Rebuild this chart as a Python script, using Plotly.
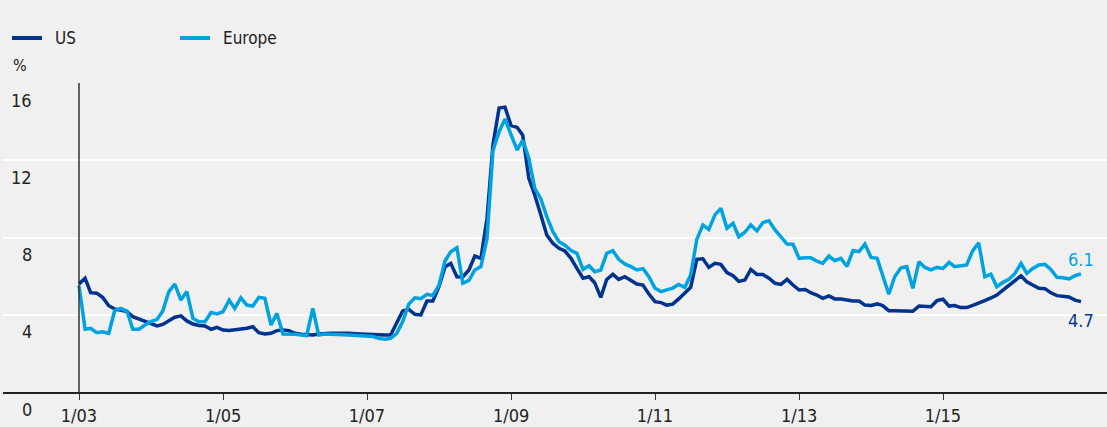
import pandas as pd
import plotly.graph_objects as go

# ---------------- data ----------------
start_month = "2003-01-01"
us = [5.6, 5.89, 5.14, 5.11, 4.90, 4.47, 4.30, 4.25, 4.16, 3.90, 3.78, 3.64,
      3.50, 3.42, 3.50, 3.69, 3.87, 3.94, 3.68, 3.52, 3.44, 3.42, 3.25, 3.35,
      3.21, 3.18, 3.21, 3.25, 3.30, 3.38, 3.07, 3.00, 3.04, 3.18, 3.21, 3.18,
      3.04, 2.99, 2.95, 2.95, 3.00, 3.04, 3.04, 3.04, 3.05, 3.04, 3.02, 3.00,
      2.99, 2.97, 2.95, 2.95, 2.95, 3.55, 4.20, 4.28, 4.02, 3.99, 4.71, 4.71,
      5.46, 6.49, 6.66, 5.97, 5.96, 6.32, 7.04, 6.92, 9.00, 12.8, 14.7, 14.75,
      13.8, 13.7, 13.3, 11.06, 10.2, 9.17, 8.13, 7.70, 7.44, 7.30, 6.92, 6.40,
      5.89, 5.97, 5.66, 4.90, 5.83, 6.09, 5.83, 5.97, 5.80, 5.59, 5.54, 5.07,
      4.68, 4.63, 4.50, 4.55, 4.82, 5.11, 5.42, 6.87, 6.90, 6.45, 6.66, 6.61,
      6.18, 6.02, 5.73, 5.80, 6.35, 6.09, 6.09, 5.89, 5.63, 5.57, 5.83, 5.54,
      5.28, 5.31, 5.14, 5.02, 4.85, 4.97, 4.82, 4.82, 4.76, 4.71, 4.71, 4.50,
      4.48, 4.56, 4.47, 4.21, 4.21, 4.19, 4.16, 4.18, 4.45, 4.45, 4.42, 4.73,
      4.80, 4.45, 4.48, 4.37, 4.37, 4.48, 4.59, 4.73, 4.87, 5.02, 5.28, 5.52,
      5.76, 6.02, 5.71, 5.54, 5.37, 5.35, 5.14, 4.99, 4.94, 4.92, 4.76, 4.68]
europe = [5.5, 3.25, 3.30, 3.07, 3.12, 3.04, 4.21, 4.33, 4.19, 3.25, 3.25, 3.47,
          3.64, 3.76, 4.20, 5.20, 5.59, 4.76, 5.20, 3.81, 3.64, 3.64, 4.12, 4.04,
          4.16, 4.76, 4.33, 4.88, 4.50, 4.45, 4.90, 4.85, 3.47, 4.07, 3.00, 3.00,
          2.99, 2.95, 2.92, 4.33, 2.95, 3.00, 3.00, 2.97, 2.96, 2.95, 2.93, 2.92,
          2.90, 2.87, 2.78, 2.73, 2.78, 3.04, 3.65, 4.55, 4.88, 4.83, 5.06, 5.00,
          5.52, 6.80, 7.26, 7.47, 5.63, 5.78, 6.32, 6.49, 7.96, 12.5, 13.48, 14.14,
          13.31, 12.53, 13.05, 12.1, 10.55, 10.0, 9.08, 8.30, 7.78, 7.60, 7.32, 7.18,
          6.35, 6.54, 6.23, 6.32, 7.18, 7.32, 6.87, 6.63, 6.49, 6.32, 6.39, 5.97,
          5.37, 5.20, 5.29, 5.38, 5.57, 5.42, 6.06, 7.90, 8.65, 8.42, 9.17, 9.51,
          8.48, 8.73, 8.04, 8.27, 8.65, 8.34, 8.77, 8.87, 8.39, 8.01, 7.66, 7.65,
          6.92, 6.95, 6.95, 6.78, 6.66, 7.04, 6.80, 6.92, 6.50, 7.32, 7.27, 7.66,
          6.97, 6.92, 5.97, 5.06, 5.97, 6.42, 6.49, 5.37, 6.75, 6.45, 6.32, 6.45,
          6.40, 6.71, 6.49, 6.53, 6.58, 7.32, 7.73, 5.97, 6.10, 5.45, 5.68, 5.83,
          6.14, 6.66, 6.14, 6.40, 6.58, 6.61, 6.35, 5.94, 5.92, 5.85, 6.02, 6.12]
series_names = ["US", "Europe"]
series_colors = ["#00338d", "#00a3e0"]
end_labels = ["4.7", "6.1"]
x_tick_dates = ["2003-01-01", "2005-01-01", "2007-01-01", "2009-01-01",
                "2011-01-01", "2013-01-01", "2015-01-01"]
x_tick_text = ["1/03", "1/05", "1/07", "1/09", "1/11", "1/13", "1/15"]
y_ticks = [0, 4, 8, 12, 16]
y_unit = "%"

# ---------------- layout geometry ----------------
W, H = 1107, 427
L, R, T, B = 3, 0, 83, 35
PW, PH = W - L - R, H - T - B
FONT = "DejaVu Sans Condensed, DejaVu Sans, sans-serif"
BG = "#f0f0f0"

dates = pd.date_range(start_month, periods=len(us), freq="MS")
t0 = pd.Timestamp(start_month)
px_per_day = 72 / 365.25
x_left = t0 - pd.Timedelta(days=(79 - L) / px_per_day)
x_right = t0 + pd.Timedelta(days=(W - 79) / px_per_day)


def px(xp):
    return (xp - L) / PW


def py(yp):
    return (H - B - yp) / PH


fig = go.Figure()
for name, vals, col in zip(series_names, [us, europe], series_colors):
    fig.add_trace(go.Scatter(x=dates, y=vals, mode="lines", name=name,
                             line=dict(color=col, width=3.5), showlegend=False))

annotations = []
shapes = []

# y tick labels (sit just below their gridlines)
for v in y_ticks:
    annotations.append(dict(x=px(34), xref="paper", y=v, yref="y", text=str(v),
                            showarrow=False, xanchor="right", yanchor="middle",
                            yshift=-17, font=dict(family=FONT, size=18, color="#222")))

# end labels
annotations.append(dict(x=dates[-1], y=us[-1], text=end_labels[0], showarrow=False,
                        xanchor="center", yanchor="middle", yshift=-19,
                        font=dict(family=FONT, size=18, color=series_colors[0])))
annotations.append(dict(x=dates[-1], y=europe[-1], text=end_labels[1], showarrow=False,
                        xanchor="center", yanchor="middle", yshift=14,
                        font=dict(family=FONT, size=18, color=series_colors[1])))

# unit label
annotations.append(dict(x=px(11), xref="paper", y=py(65.5), yref="paper", text=y_unit,
                        showarrow=False, xanchor="left", yanchor="middle",
                        font=dict(family=FONT, size=16, color="#222")))

# manual legend
legend_x = [12, 180]
for name, col, lx in zip(series_names, series_colors, legend_x):
    shapes.append(dict(type="line", xref="paper", yref="paper",
                       x0=px(lx), x1=px(lx + 30), y0=py(38), y1=py(38),
                       line=dict(color=col, width=4)))
    annotations.append(dict(x=px(lx + 41), xref="paper", y=py(38), yref="paper",
                            text=name, showarrow=False, xanchor="left", yanchor="middle",
                            font=dict(family=FONT, size=17, color="#222")))

# vertical axis line at the first date
shapes.append(dict(type="line", xref="x", yref="y", x0=t0, x1=t0, y0=0, y1=16,
                   line=dict(color="#333", width=1.5)))

fig.update_layout(
    width=W, height=H,
    margin=dict(l=L, r=R, t=T, b=B, pad=0, autoexpand=False),
    paper_bgcolor=BG, plot_bgcolor=BG,
    annotations=annotations, shapes=shapes,
    xaxis=dict(type="date", range=[x_left, x_right], tickvals=x_tick_dates,
               ticktext=x_tick_text, ticks="outside", ticklen=6, tickwidth=1,
               tickcolor="#333", showline=True, linecolor="#222", linewidth=1.5,
               showgrid=False, zeroline=False, ticklabelstandoff=1, automargin=False,
               tickfont=dict(family=FONT, size=18, color="#222")),
    yaxis=dict(range=[0, 16], tickvals=[4, 8, 12, 16], showticklabels=False,
               showgrid=True, gridcolor="white", gridwidth=2, zeroline=False,
               showline=False, ticks="", automargin=False),
)

fig.write_html("out.html")
